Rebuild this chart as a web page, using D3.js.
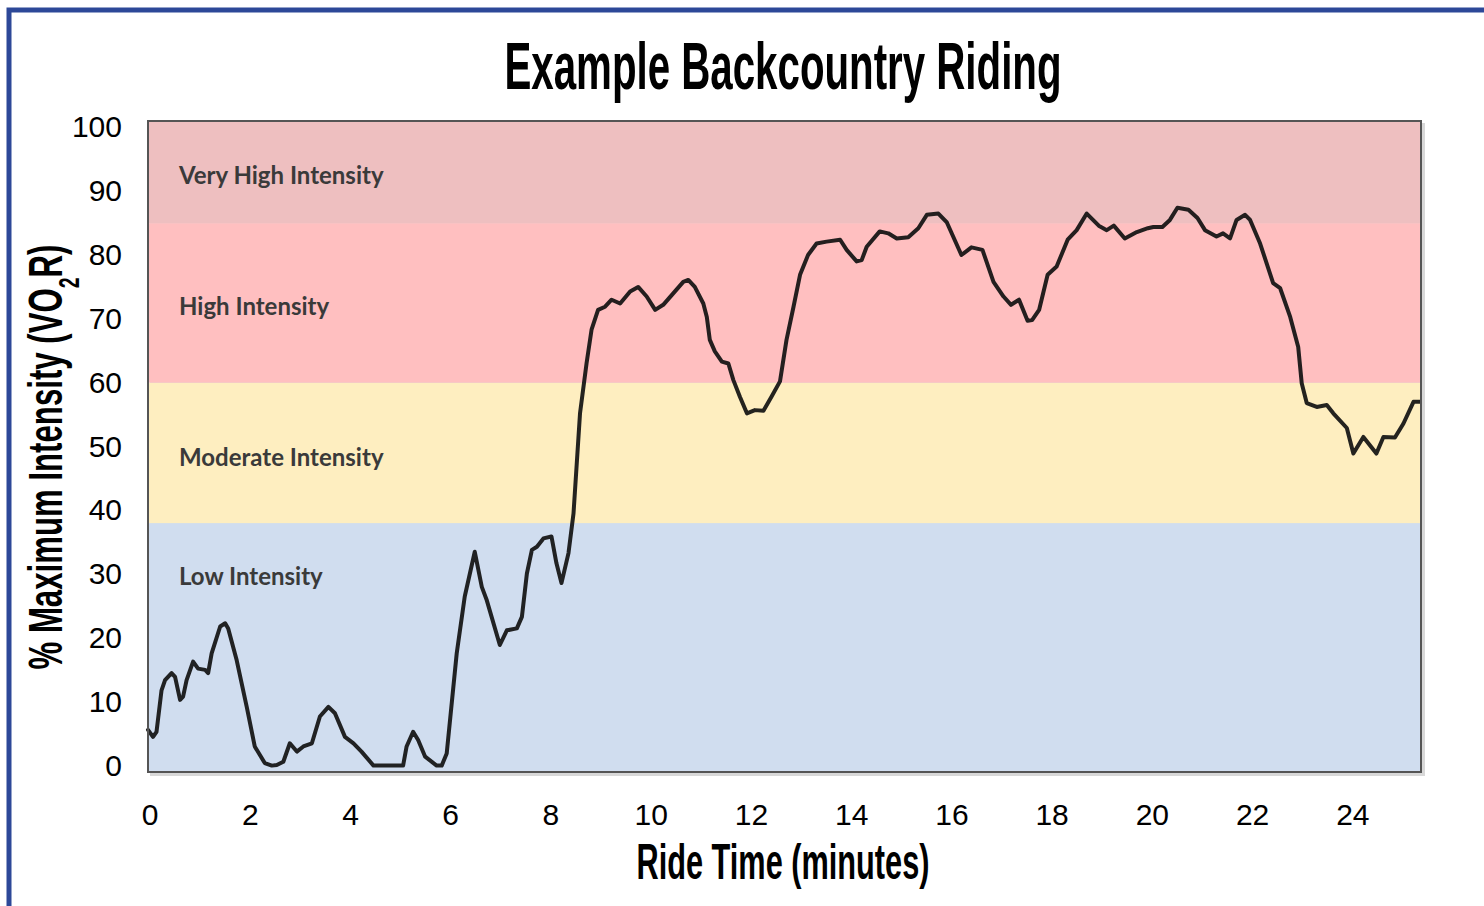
<!DOCTYPE html>
<html>
<head>
<meta charset="utf-8">
<script src="https://cdn.jsdelivr.net/npm/d3@7"></script>
<style>
  body { margin: 0; background: #fff; }
  svg { display: block; }
</style>
</head>
<body>
<div id="chart"></div>
<script>
/**
 * CONSTANTS AND GLOBALS
 * */
const width = 1484,
  height = 906,
  margin = { top: 121, right: 63, bottom: 134, left: 148 };

// ride time (minutes) and % of max intensity
const rideTime = [
  0.0, 0.1, 0.17, 0.27, 0.34, 0.47, 0.54, 0.64, 0.7, 0.77, 0.9, 1.0, 1.14, 1.2, 1.27,
  1.44, 1.54, 1.6, 1.77, 1.97, 2.13, 2.33, 2.47, 2.57, 2.7, 2.83, 2.97, 3.1, 3.27, 3.43,
  3.6, 3.73, 3.93, 4.1, 4.26, 4.5, 4.69, 5.09, 5.16, 5.29, 5.39, 5.53, 5.76, 5.86, 5.96,
  6.16, 6.32, 6.52, 6.66, 6.76, 7.02, 7.16, 7.36, 7.46, 7.56, 7.66, 7.76, 7.89, 8.05, 8.15,
  8.25, 8.39, 8.49, 8.62, 8.75, 8.85, 8.98, 9.12, 9.25, 9.42, 9.62, 9.78, 9.95, 10.12, 10.28,
  10.48, 10.68, 10.78, 10.91, 11.08, 11.15, 11.21, 11.31, 11.45, 11.58, 11.68, 11.81, 11.95, 12.11, 12.28,
  12.44, 12.61, 12.74, 12.88, 13.01, 13.17, 13.34, 13.54, 13.81, 13.94, 14.14, 14.24, 14.34, 14.6, 14.77,
  14.94, 15.17, 15.37, 15.54, 15.77, 15.94, 16.23, 16.43, 16.65, 16.87, 17.07, 17.22, 17.38, 17.55, 17.64,
  17.78, 17.95, 18.13, 18.35, 18.53, 18.73, 18.97, 19.13, 19.27, 19.49, 19.73, 19.95, 20.06, 20.24, 20.39,
  20.54, 20.76, 20.94, 21.09, 21.32, 21.45, 21.59, 21.72, 21.89, 21.99, 22.19, 22.45, 22.59, 22.79, 22.95,
  23.02, 23.12, 23.32, 23.52, 23.65, 23.92, 24.05, 24.25, 24.51, 24.65, 24.88, 25.05, 25.25, 25.38
];
const intensity = [
  5.6, 4.5, 5.3, 11.8, 13.4, 14.5, 13.9, 10.3, 10.8, 13.4, 16.3, 15.2, 15.0, 14.5, 17.6,
  21.8, 22.3, 21.5, 16.5, 9.2, 3.0, 0.4, 0.0, 0.1, 0.6, 3.5, 2.2, 3.0, 3.5, 7.7,
  9.2, 8.2, 4.5, 3.5, 2.2, 0.0, 0.0, 0.0, 3.0, 5.3, 4.0, 1.4, 0.0, 0.0, 1.9,
  17.6, 26.5, 33.5, 28.0, 25.9, 18.9, 21.2, 21.5, 23.3, 30.1, 33.8, 34.3, 35.6, 35.9, 31.7,
  28.6, 33.3, 39.5, 55.2, 63.0, 68.3, 71.4, 71.9, 73.0, 72.4, 74.3, 75.0, 73.5, 71.4, 72.2,
  74.0, 75.8, 76.1, 75.0, 72.4, 70.3, 66.7, 64.9, 63.3, 63.0, 60.4, 57.8, 55.2, 55.7, 55.6,
  57.8, 60.2, 66.7, 71.9, 76.9, 80.0, 81.8, 82.1, 82.4, 80.8, 79.0, 79.2, 81.3, 83.7, 83.4,
  82.6, 82.8, 84.2, 86.3, 86.5, 85.1, 80.0, 81.2, 80.8, 75.8, 73.5, 72.2, 73.0, 69.7, 69.8,
  71.4, 76.9, 78.2, 82.4, 83.9, 86.5, 84.6, 83.9, 84.6, 82.6, 83.6, 84.2, 84.4, 84.4, 85.5,
  87.4, 87.1, 85.8, 83.9, 82.9, 83.4, 82.6, 85.5, 86.3, 85.5, 81.8, 75.6, 74.8, 70.3, 65.6,
  59.9, 56.8, 56.2, 56.5, 55.2, 52.9, 48.9, 51.5, 48.9, 51.5, 51.4, 53.6, 57.0, 57.0
];

// intensity zones (bottom to top)
const zoneNames = ["Low Intensity", "Moderate Intensity", "High Intensity", "Very High Intensity"];
const zoneBreaks = [38, 60, 85];
const zoneColors = ["#d0ddef", "#feeec0", "#ffbfc0", "#eebfc0"];
const zoneLabelAt = [29.6, 48.2, 71.9, 92.4];

const xTicks = [0, 2, 4, 6, 8, 10, 12, 14, 16, 18, 20, 22, 24];
const yTicks = [0, 10, 20, 30, 40, 50, 60, 70, 80, 90, 100];

let svg;

/**
 * INITIALIZING FUNCTION
 * */
function init() {
  const innerWidth = width - margin.left - margin.right,
    innerHeight = height - margin.top - margin.bottom;

  const x = d3.scaleLinear().domain([0, 25.4]).range([0, innerWidth]);
  const y = d3.scaleLinear().domain([-1, 101]).range([innerHeight, 0]);

  svg = d3
    .select("#chart")
    .append("svg")
    .attr("width", width)
    .attr("height", height);

  // blue frame (top and left only, the rest is cropped off)
  svg.append("path")
    .attr("d", `M9,906 L9,10 L1484,10`)
    .attr("fill", "none")
    .attr("stroke", "#2d4898")
    .attr("stroke-width", 5);

  // title
  svg.append("text")
    .attr("x", 783)
    .attr("y", 89)
    .attr("text-anchor", "middle")
    .attr("textLength", 557)
    .attr("lengthAdjust", "spacingAndGlyphs")
    .style("font-family", "'Liberation Sans', Arial, sans-serif")
    .style("font-weight", "bold")
    .style("font-size", "66px")
    .text("Example Backcountry Riding");

  const g = svg.append("g")
    .attr("transform", `translate(${margin.left},${margin.top})`);

  // soft shadow behind the plot frame
  g.append("rect")
    .attr("x", 2)
    .attr("y", 2)
    .attr("width", innerWidth + 2)
    .attr("height", innerHeight + 2)
    .attr("fill", "#d8d8d8");

  const edges = [y.domain()[0], ...zoneBreaks, y.domain()[1]];
  g.selectAll(".zone")
    .data(zoneNames)
    .join("rect")
    .attr("class", "zone")
    .attr("x", 0)
    .attr("width", innerWidth)
    .attr("y", (d, i) => y(edges[i + 1]))
    .attr("height", (d, i) => y(edges[i]) - y(edges[i + 1]))
    .attr("fill", (d, i) => zoneColors[i]);

  g.selectAll(".zone-label")
    .data(zoneNames)
    .join("text")
    .attr("class", "zone-label")
    .attr("x", 31)
    .attr("y", (d, i) => y(zoneLabelAt[i]))
    .attr("dy", "0.35em")
    .style("font-family", "Lato, 'Open Sans', sans-serif")
    .style("font-weight", "bold")
    .style("font-size", "24px")
    .style("fill", "#3a3a3a")
    .text(d => d);

  // the ride trace
  const line = d3.line()
    .x((d, i) => x(rideTime[i]))
    .y(d => y(d));

  g.append("path")
    .datum(intensity)
    .attr("d", line)
    .attr("fill", "none")
    .attr("stroke", "#111")
    .attr("stroke-opacity", 0.92)
    .attr("stroke-width", 4)
    .attr("stroke-linejoin", "round")
    .attr("stroke-linecap", "round");

  // plot frame
  g.append("rect")
    .attr("width", innerWidth)
    .attr("height", innerHeight)
    .attr("fill", "none")
    .attr("stroke", "#555")
    .attr("stroke-width", 2);

  // axes
  const yAxis = g.append("g")
    .call(d3.axisLeft(y).tickValues(yTicks).tickSize(0).tickPadding(26));
  const xAxis = g.append("g")
    .attr("transform", `translate(0,${innerHeight})`)
    .call(d3.axisBottom(x).tickValues(xTicks).tickSize(0).tickPadding(32));

  [yAxis, xAxis].forEach(a => {
    a.select(".domain").remove();
    a.selectAll("text")
      .style("font-family", "'Liberation Sans', Arial, sans-serif")
      .style("font-size", "30px")
      .style("fill", "#000");
  });
  // the picture's minute labels sit a touch right of the grid
  xAxis.selectAll("text").attr("dx", 1.5);

  // axis titles
  svg.append("text")
    .attr("x", 783)
    .attr("y", 879)
    .attr("text-anchor", "middle")
    .attr("textLength", 293)
    .attr("lengthAdjust", "spacingAndGlyphs")
    .style("font-family", "'Liberation Sans', Arial, sans-serif")
    .style("font-weight", "bold")
    .style("font-size", "50px")
    .text("Ride Time (minutes)");

  const yTitle = svg.append("text")
    .attr("transform", "translate(62,457) rotate(-90)")
    .attr("text-anchor", "middle")
    .attr("textLength", 425)
    .attr("lengthAdjust", "spacingAndGlyphs")
    .style("font-family", "'Liberation Sans', Arial, sans-serif")
    .style("font-weight", "bold")
    .style("font-size", "48px");
  yTitle.append("tspan").text("% Maximum Intensity (VO");
  yTitle.append("tspan").attr("baseline-shift", "sub").style("font-size", "30px").text("2");
  yTitle.append("tspan").text("R)");
}

init();
</script>
</body>
</html>
